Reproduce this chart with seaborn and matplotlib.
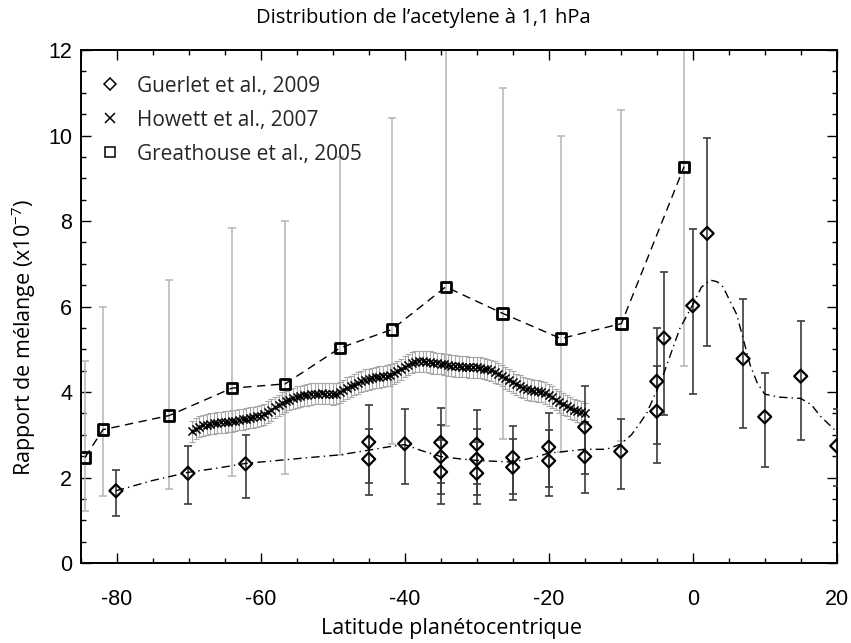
import numpy as np
import matplotlib
matplotlib.use("Agg")
import matplotlib.pyplot as plt
from matplotlib.lines import Line2D
import seaborn as sns

# Guerlet et al., 2009 : latitude, rapport de melange, bornes des barres d'erreur
guerlet_lat = [-80.1, -70.1, -62.1, -45.0, -45.0, -40.0, -35.0, -35.0, -35.0,
               -30.0, -30.0, -30.0, -25.0, -25.0, -20.0, -20.0, -15.0, -15.0,
               -10.0, -5.0, -5.0, -4.0, 0.0, 2.0, 7.0, 10.0, 15.0, 20.0]
guerlet_val = [1.69, 2.10, 2.32, 2.83, 2.43, 2.79, 2.82, 2.49, 2.13,
               2.78, 2.43, 2.10, 2.47, 2.24, 2.71, 2.39, 3.18, 2.49,
               2.61, 4.25, 3.55, 5.26, 6.02, 7.71, 4.78, 3.42, 4.37, 2.74]
guerlet_lo = [1.11, 1.39, 1.53, 1.86, 1.58, 1.84, 1.86, 1.62, 1.39,
              1.84, 1.58, 1.37, 1.62, 1.47, 1.78, 1.57, 2.08, 1.64,
              1.72, 2.79, 2.33, 3.46, 3.96, 5.08, 3.15, 2.25, 2.88, 1.80]
guerlet_hi = [2.17, 2.73, 3.00, 3.69, 3.14, 3.61, 3.63, 3.24, 2.87,
              3.59, 3.14, 2.83, 3.20, 2.90, 3.52, 3.12, 4.13, 3.30,
              3.38, 5.50, 4.62, 6.81, 7.81, 9.95, 6.18, 4.44, 5.65, 3.60]

# courbe en tirets-points (modele)
model_lat = [-80.1, -75.0, -70.1, -66.0, -62.1, -55.0, -49.0, -45.0, -41.8, -40.0,
             -37.5, -35.0, -32.0, -30.0, -25.0, -22.0, -20.0, -15.0, -12.0, -10.0,
             -8.5, -7.3, -6.4, -4.3, -1.8, 0.0, 1.2, 2.4, 3.4, 4.2,
             6.1, 8.0, 9.0, 10.0, 12.0, 15.0, 16.5, 17.7, 20.0]
model_val = [1.69, 1.93, 2.12, 2.22, 2.33, 2.44, 2.53, 2.64, 2.73, 2.77,
             2.62, 2.49, 2.43, 2.40, 2.36, 2.47, 2.57, 2.66, 2.66, 2.78,
             3.00, 3.28, 3.50, 4.30, 5.48, 6.04, 6.45, 6.62, 6.58, 6.46,
             5.82, 4.62, 4.20, 3.95, 3.88, 3.85, 3.70, 3.44, 3.07]

# Greathouse et al., 2005
greathouse_lat = [-84.4, -81.9, -72.7, -64.0, -56.6, -49.0, -41.8, -34.3, -26.4, -18.3, -9.9, -1.2]
greathouse_val = [2.47, 3.12, 3.45, 4.09, 4.19, 5.03, 5.46, 6.46, 5.84, 5.25, 5.60, 9.27]
greathouse_lo = [1.21, 1.56, 1.72, 2.03, 2.08, 2.53, 2.78, 3.21, 2.90, 2.60, 2.85, 4.60]
greathouse_hi = [4.73, 5.98, 6.61, 7.83, 8.00, 9.50, 10.4, 12.3, 11.1, 10.0, 10.6, 17.6]

# Howett et al., 2007
howett_lat = [-69.5, -69.0, -68.5, -68.0, -67.5, -67.0, -66.5, -66.0, -65.5, -65.0,
              -64.5, -64.0, -63.5, -63.0, -62.5, -62.0, -61.5, -61.0, -60.5, -60.0,
              -59.5, -59.0, -58.5, -58.0, -57.5, -57.0, -56.5, -56.0, -55.5, -55.0,
              -54.5, -54.0, -53.5, -53.0, -52.5, -52.0, -51.5, -51.0, -50.5, -50.0,
              -49.5, -49.0, -48.5, -48.0, -47.5, -47.0, -46.5, -46.0, -45.5, -45.0,
              -44.5, -44.0, -43.5, -43.0, -42.5, -42.0, -41.5, -41.0, -40.5, -40.0,
              -39.5, -39.0, -38.5, -38.0, -37.5, -37.0, -36.5, -36.0, -35.5, -35.0,
              -34.5, -34.0, -33.5, -33.0, -32.5, -32.0, -31.5, -31.0, -30.5, -30.0,
              -29.5, -29.0, -28.5, -28.0, -27.5, -27.0, -26.5, -26.0, -25.5, -25.0,
              -24.5, -24.0, -23.5, -23.0, -22.5, -22.0, -21.5, -21.0, -20.5, -20.0,
              -19.5, -19.0, -18.5, -18.0, -17.5, -17.0, -16.5, -16.0, -15.5, -15.0]
howett_val = [3.08, 3.14, 3.19, 3.22, 3.24, 3.26, 3.27, 3.28, 3.29, 3.30,
              3.31, 3.32, 3.33, 3.35, 3.36, 3.38, 3.40, 3.41, 3.43, 3.45,
              3.48, 3.53, 3.58, 3.64, 3.69, 3.74, 3.78, 3.82, 3.85, 3.88,
              3.90, 3.92, 3.93, 3.95, 3.96, 3.96, 3.97, 3.96, 3.96, 3.95,
              3.96, 3.99, 4.04, 4.09, 4.13, 4.17, 4.21, 4.25, 4.28, 4.30,
              4.32, 4.34, 4.35, 4.37, 4.38, 4.40, 4.44, 4.48, 4.53, 4.59,
              4.64, 4.69, 4.71, 4.72, 4.72, 4.71, 4.70, 4.68, 4.67, 4.66,
              4.65, 4.63, 4.62, 4.61, 4.60, 4.59, 4.59, 4.58, 4.58, 4.58,
              4.57, 4.55, 4.53, 4.51, 4.47, 4.43, 4.38, 4.33, 4.28, 4.23,
              4.18, 4.14, 4.10, 4.07, 4.05, 4.03, 4.02, 4.01, 3.98, 3.93,
              3.88, 3.82, 3.77, 3.72, 3.68, 3.63, 3.59, 3.56, 3.53, 3.50]
howett_err = 0.25

sns.set_theme(style="ticks")
plt.rcParams["font.family"] = ["Open Sans", "DejaVu Sans"]
plt.rcParams["axes.unicode_minus"] = False
plt.rcParams["mathtext.fontset"] = "custom"
plt.rcParams["mathtext.rm"] = "Open Sans"

fig = plt.figure(figsize=(8.51, 6.43), dpi=100)
ax = fig.add_axes([0.0948, 0.1244, 0.8884, 0.7978])

# barres d'erreur
g_val = np.array(greathouse_val)
ax.errorbar(greathouse_lat, g_val,
            yerr=[g_val - np.array(greathouse_lo), np.array(greathouse_hi) - g_val],
            fmt="none", ecolor="#b5b5b5", elinewidth=1.1, capsize=3, capthick=1.1, zorder=1)

h_val = np.array(howett_val)
ax.errorbar(howett_lat, h_val, yerr=howett_err, fmt="none", ecolor="#a8a8a8",
            elinewidth=0.8, capsize=2.2, capthick=0.8, zorder=2)

gu_val = np.array(guerlet_val)
ax.errorbar(guerlet_lat, gu_val,
            yerr=[gu_val - np.array(guerlet_lo), np.array(guerlet_hi) - gu_val],
            fmt="none", ecolor="#3c3c3c", elinewidth=1.2, capsize=3, capthick=1.2, zorder=3)

# lignes
sns.lineplot(x=greathouse_lat, y=greathouse_val, ax=ax, color="black", lw=1.0,
             linestyle=(0, (6, 4)), zorder=3)
sns.lineplot(x=model_lat, y=model_val, ax=ax, color="black", lw=1.0,
             linestyle=(0, (6, 3, 1, 3)), zorder=3)

# marqueurs
sns.scatterplot(x=howett_lat, y=howett_val, ax=ax, marker="x", s=34, color="black",
                linewidth=1.1, zorder=4)
sns.scatterplot(x=guerlet_lat, y=guerlet_val, ax=ax, marker="D", s=44, facecolor="none",
                edgecolor="black", linewidth=1.6, zorder=5)
sns.scatterplot(x=greathouse_lat, y=greathouse_val, ax=ax, marker="s", s=56, facecolor="none",
                edgecolor="black", linewidth=2.0, zorder=5)

ax.set_xlim(-85, 20)
ax.set_ylim(0, 12)
ax.set_xticks([-80, -60, -40, -20, 0, 20])
ax.set_xticks(np.arange(-85, 21, 5), minor=True)
ax.set_yticks([0, 2, 4, 6, 8, 10, 12])
ax.set_yticks(np.arange(0, 12.01, 0.5), minor=True)
ax.tick_params(which="both", direction="in", top=True, right=True, width=1.0, color="black")
ax.tick_params(which="major", length=7)
ax.tick_params(which="minor", length=3.5)
ax.tick_params(axis="x", which="major", pad=19)
ax.tick_params(axis="y", which="major", pad=6)
for lab in ax.get_xticklabels() + ax.get_yticklabels():
    lab.set_fontfamily("Liberation Sans")
    lab.set_fontsize(15.5)
    lab.set_color("black")
for sp in ax.spines.values():
    sp.set_linewidth(1.4)
    sp.set_color("black")

ax.set_xlabel("Latitude planétocentrique", fontsize=15.5, color="black")
ax.xaxis.set_label_coords((452 - 80.7) / 756, -0.108)
ax.set_ylabel(r"Rapport de mélange (x10$^{\mathregular{-7}}$)", fontsize=15.5, color="black")
ax.yaxis.set_label_coords(-0.057, 0.44)
fig.suptitle("Distribution de l\u2019acetylene à 1,1 hPa", x=0.498, y=0.988, fontsize=14.5,
             color="black")

handles = [
    Line2D([], [], ls="none", marker="D", ms=6, mfc="none", mec="black", mew=1.1),
    Line2D([], [], ls="none", marker="x", ms=7, mec="black", mew=1.1),
    Line2D([], [], ls="none", marker="s", ms=7, mfc="none", mec="black", mew=1.1),
]
labels = ["Guerlet et al., 2009", "Howett et al., 2007", "Greathouse et al., 2005"]
ax.legend(handles, labels, loc="upper left", bbox_to_anchor=(0.026, 0.95), frameon=False,
          fontsize=15, handlelength=0.9, handletextpad=0.85, borderpad=0, borderaxespad=0,
          labelspacing=0.62)

fig.savefig("out.png", dpi=100)
